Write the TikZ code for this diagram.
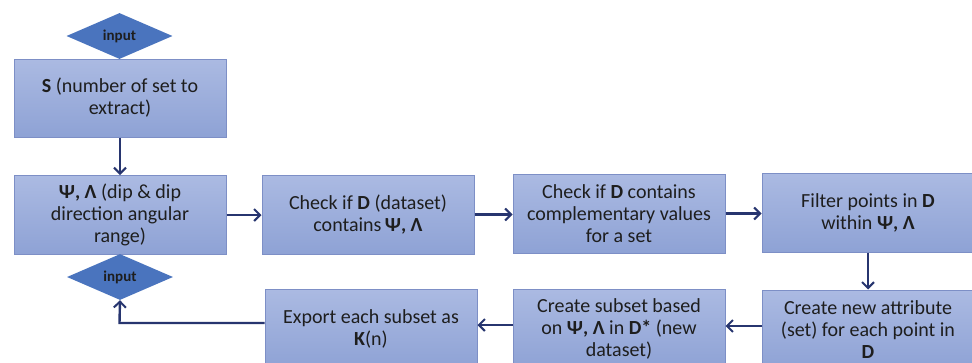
\documentclass[tikz,border=0pt]{standalone}
\usepackage{fontspec}
\setmainfont{Carlito}
\usetikzlibrary{shapes.geometric,arrows.meta,calc}
\definecolor{boxtop}{HTML}{ABBAE2}
\definecolor{boxbot}{HTML}{8EA2D5}
\definecolor{boxline}{HTML}{7D8FC6}
\definecolor{dia}{HTML}{4A74BE}
\definecolor{arrc}{HTML}{27356F}
\definecolor{txt}{HTML}{1E1E1E}
\tikzset{
  stepbox/.style={rectangle, draw=boxline, line width=1pt, top color=boxtop, bottom color=boxbot,
    minimum width=212pt, minimum height=79pt, text width=206pt, align=flush center, inner sep=0pt,
    text=txt, font=\fontsize{20}{22}\selectfont},
  inbox/.style={diamond, fill=dia, draw=none, minimum width=106pt, minimum height=43pt, inner sep=0pt,
    text=txt, font=\fontsize{15}{17}\selectfont\bfseries},
  arr/.style={draw=arrc, line width=2.4pt, -{Straight Barb[length=6pt,width=12pt,line width=2pt]}}
}
\begin{document}
\begin{tikzpicture}[x=1pt,y=-1pt]
\fill[white] (0,0) rectangle (972,362);
\useasboundingbox (0,0) rectangle (972,362);
\clip (0,0) rectangle (972,362);
\node[inbox] (in1) at (119.5,36) {input};
\node[stepbox, minimum height=78pt] (s) at (120,98) {\textbf{S} (number of set to\\extract)};
\node[stepbox] (psi) at (120,215) {\textbf{Ψ, Λ} (dip \& dip\\direction angular\\range)};
\node[inbox] (in2) at (120,277) {input};
\node[stepbox] (chk) at (368,214.5) {Check if \textbf{D} (dataset)\\contains\,\textbf{Ψ, Λ}};
\node[stepbox] (comp) at (619,213.5) {Check if \textbf{D} contains\\complementary values\\for a set};
\node[stepbox] (filt) at (868,212.5) {Filter points in \textbf{D}\\within \textbf{Ψ, Λ}};
\node[stepbox, minimum height=80pt] (attr) at (868,330) {Create new attribute\\(set) for each point in\\\textbf{D}};
\node[stepbox, minimum height=80pt] (sub) at (619,329) {Create subset based\\on \textbf{Ψ, Λ} in \textbf{D*} (new\\dataset)};
\node[stepbox, minimum height=80pt] (exp) at (371,329) {Export each subset as\\\textbf{K}(n)};
\coordinate (bend) at (119.5,323);
\draw[arr] (s.south) -- (psi.north);
\draw[arr] (psi.east) -- (psi.east -| chk.west);
\draw[arr] (chk.east) -- (chk.east -| comp.west);
\draw[arr] (comp.east) -- (comp.east -| filt.west);
\draw[arr] (filt.south) -- (attr.north);
\draw[arr] ($(attr.west)+(0,-4)$) -- ($(attr.west -| sub.east)+(0,-4)$);
\draw[arr] ($(sub.west)+(0,-4)$) -- ($(sub.west -| exp.east)+(0,-4)$);
\draw[arr] (exp.west |- bend) -- (bend) -- (in2.south);
\end{tikzpicture}
\end{document}
